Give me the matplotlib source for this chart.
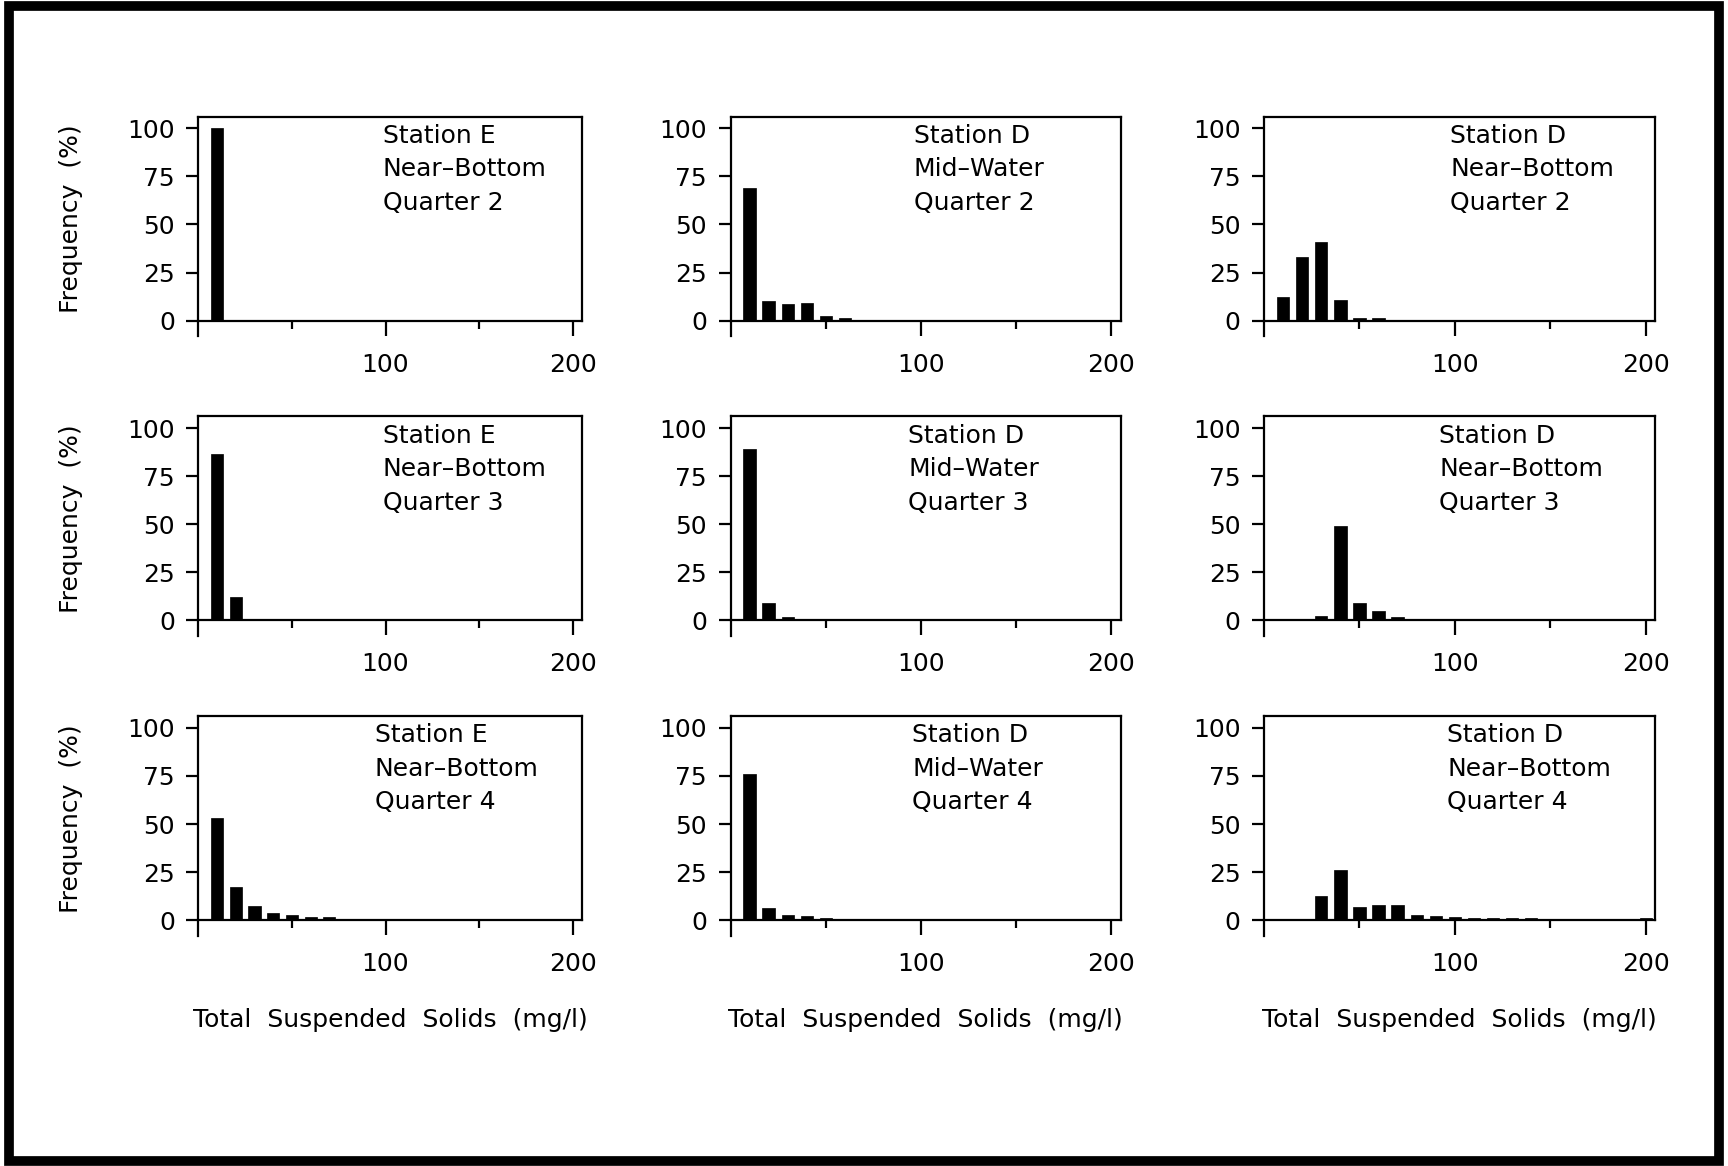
import matplotlib.pyplot as plt
from matplotlib.patches import Rectangle

# bin centres of total suspended solids (mg/l)
tss_bins = [10, 20, 30, 40, 50, 60, 70, 80, 90, 100,
            110, 120, 130, 140, 150, 160, 170, 180, 190, 200]

stations = ["Station E", "Station D", "Station D"]
depths = ["Near\u2013Bottom", "Mid\u2013Water", "Near\u2013Bottom"]
quarters = ["Quarter 2", "Quarter 3", "Quarter 4"]

# frequency (%) per panel, rows = quarters, columns = station/depth
freq_e_nb_q2 = [100, 0, 0, 0, 0, 0, 0, 0, 0, 0, 0, 0, 0, 0, 0, 0, 0, 0, 0, 0]
freq_d_mw_q2 = [69, 10.3, 8.5, 9.4, 2.6, 1.2, 0, 0, 0, 0, 0, 0, 0, 0, 0, 0, 0, 0, 0, 0]
freq_d_nb_q2 = [12.4, 33.3, 41.1, 10.7, 1.5, 1.2, 0.5, 0, 0, 0, 0, 0, 0, 0, 0, 0, 0, 0, 0, 0]
freq_e_nb_q3 = [86.5, 12.1, 0, 0, 0, 0, 0, 0, 0, 0, 0, 0, 0, 0, 0, 0, 0, 0, 0, 0]
freq_d_mw_q3 = [89, 8.8, 1.8, 0, 0, 0, 0, 0, 0, 0, 0, 0, 0, 0, 0, 0, 0, 0, 0, 0]
freq_d_nb_q3 = [0, 0, 2.5, 49, 8.8, 5.1, 1.6, 0.8, 0.8, 1.0, 0.9, 1.0, 0.9, 0.8, 0.9, 1.0, 0.8, 0.9, 0.9, 1.0]
freq_e_nb_q4 = [53.2, 17.1, 7.5, 4.0, 2.5, 1.8, 1.5, 0.5, 0.4, 0.4, 0.3, 0.3, 0.3, 0.3, 0.3, 0.3, 0.3, 0.3, 0.3, 0.3]
freq_d_mw_q4 = [76.2, 6.6, 2.8, 2.1, 1.0, 0.6, 0.5, 0.5, 0.4, 0.3, 0.3, 0.3, 0.4, 0.5, 0.6, 0.5, 0.3, 0.3, 0.3, 0.3]
freq_d_nb_q4 = [0, 0, 12.4, 26, 7.1, 7.9, 7.9, 2.5, 2.0, 1.5, 1.2, 1.0, 0.9, 0.9, 0, 0.8, 0, 0.8, 0.8, 0.9]

panels = [
    [freq_e_nb_q2, freq_d_mw_q2, freq_d_nb_q2],
    [freq_e_nb_q3, freq_d_mw_q3, freq_d_nb_q3],
    [freq_e_nb_q4, freq_d_mw_q4, freq_d_nb_q4],
]

plt.rcParams['font.family'] = ['DejaVu Sans']
FS = 18

fig = plt.figure(figsize=(17.28, 11.66), dpi=100)

# layout in figure fractions
col_left = [0.1148, 0.4228, 0.7315]
col_width = [0.222, 0.2258, 0.2264]
row_bottom = [0.7250, 0.4679, 0.2108]
row_height = 0.1749
text_x = [[0.48, 0.47, 0.476], [0.48, 0.455, 0.448], [0.46, 0.466, 0.468]]

for r in range(3):
    for c in range(3):
        ax = fig.add_axes([col_left[c], row_bottom[r], col_width[c], row_height])
        ax.bar(tss_bins, panels[r][c], width=6.5, color='black', edgecolor='black', linewidth=0.5)
        ax.set_xlim(0, 205)
        ax.set_ylim(0, 106)

        # axes styling
        for s in ax.spines.values():
            s.set_linewidth(1.6)
        ax.spines['left'].set_bounds(-8, 106)
        ax.set_yticks([0, 25, 50, 75, 100])
        ax.set_xticks([100, 200])
        ax.set_xticks([50, 150], minor=True)
        ax.tick_params(axis='y', direction='out', length=9, width=1.6, pad=8, labelsize=FS)
        ax.tick_params(axis='x', which='major', direction='out', length=11, width=1.6, pad=12, labelsize=FS)
        ax.tick_params(axis='x', which='minor', direction='out', length=6, width=1.6)

        ax.text(text_x[r][c], 0.965, f"{stations[c]}\n{depths[c]}\n{quarters[r]}",
                transform=ax.transAxes, ha='left', va='top', fontsize=FS,
                linespacing=1.5)

        if c == 0:
            ax.set_ylabel("Frequency  (%)", fontsize=FS)
            ax.yaxis.set_label_coords(-0.30, 0.5)
        if r == 2:
            ax.set_xlabel("Total  Suspended  Solids  (mg/l)", fontsize=FS)
            ax.xaxis.set_label_coords(0.5, -0.43)

# thick border round the whole figure
fig.add_artist(Rectangle((0.005, 0.004), 0.99, 0.991, transform=fig.transFigure,
                         fill=False, edgecolor='black', linewidth=7))

fig.savefig("out.png", dpi=100, facecolor='white')
